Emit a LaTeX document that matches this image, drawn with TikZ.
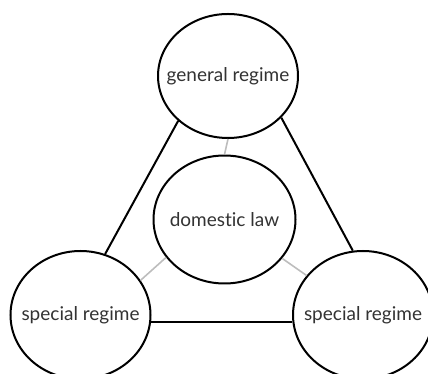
\documentclass[tikz,border=0pt]{standalone}
\usepackage{fontspec}
\setmainfont{Lato}[Ligatures=NoCommon]
\usetikzlibrary{shapes.geometric}
\definecolor{txt}{HTML}{333333}
\definecolor{link}{HTML}{BDBDBD}
\tikzset{
  regime/.style={ellipse, draw=black, line width=2pt, fill=white,
    minimum width=140pt, minimum height=124pt, inner sep=0pt},
  caption/.style={font=\fontsize{19}{21}\selectfont, text=txt, inner sep=0pt},
  tie/.style={draw=black, line width=2pt},
  soft/.style={draw=link, line width=1.6pt}
}
\begin{document}
\begin{tikzpicture}[x=1pt,y=1pt]
\useasboundingbox (0,0) rectangle (428,374);
\node[regime] (gen) at (228,298) {};
\node[regime, minimum width=142pt, minimum height=128pt] (dom) at (224.5,154.5) {};
\node[regime, minimum height=128pt] (spl) at (80.5,59) {};
\node[regime, minimum height=128pt] (spr) at (363,59) {};
% labels inside the ellipses
\node[caption] (genT) at (gen.center) {general regime};
\node[caption] (domT) at (dom.center) {domestic law};
\node[caption] (splT) at (spl.center) {special regime};
\node[caption] (sprT) at (spr.center) {special regime};
% black triangle of links
\draw[tie] (gen.222.7) -- (spl.68.8);
\draw[tie] (gen.322) -- (spr.99.9);
\draw[tie] (spl.-6.3) -- (spr.186.4);
% grey links to the centre
\draw[soft] (gen.270) -- (dom.90);
\draw[soft] (dom.213) -- (spl.30.8);
\draw[soft] (dom.326.7) -- (spr.145.6);
\end{tikzpicture}
\end{document}
